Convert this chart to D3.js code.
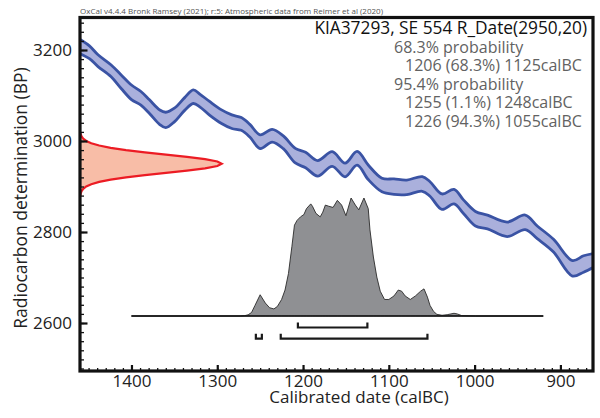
<!DOCTYPE html>
<html><head><meta charset="utf-8">
<script src="https://cdn.jsdelivr.net/npm/d3@7"></script>
<style>body{margin:0;background:#fff}svg{display:block}text{font-family:"Open Sans","Noto Sans",sans-serif}</style>
</head><body><svg id="c" width="600" height="418"></svg>
<script>
// ---- Calibration curve (IntCal20 band) ----
const curveYears = [1462,1449,1439,1424,1412,1400,1389,1379,1367,1360,1350,1338,1328,1320,1309,1295,1283,1272,
  1262,1250,1236,1223,1209,1197,1183,1166,1151,1137,1124,1108,1094,1079,1061,1052,
  1038,1024,1013,999,985,962,941,927,908,886,873,861];
const curveBP = [3209.5,3194.9,3176.5,3154.5,3130.3,3107,3093.8,3075.4,3052.1,3046.2,3057.1,3081.3,3097.4,3088.6,3071.9,3053.4,3042.4,3037.4,
  3022.6,2998.5,3011.6,2997.1,2967.7,2958.2,2940,2960.4,2936.3,2962,2931.2,2903.3,2899.6,2898.2,2905.5,2894.5,
  2866.6,2877.6,2855.6,2829.2,2822,2805.9,2821.3,2799.3,2769.9,2720.2,2729.7,2737.8];
const curveSigma = [16,14,13,13,15,16,15,15,16,17,15,14,15,14,15,15,15,14,
  14,15,14,14,16,17,17,16,15,15,16,15,17,16,16,16,
  17,16,15,16,15,16,16,14,14,17,18,15];

// ---- Radiocarbon measurement R_Date(2950,20), relative density ----
const rBP = [2880,2885,2890,2895,2900,2905,2910,2915,2920,2925,2930,2935,2940,2945,2950,
  2955,2960,2965,2970,2975,2980,2985,2990,2995,3000,3005,3010,3015,3020];
const rDens = [0.0022,0.0051,0.0111,0.0228,0.0439,0.0796,0.1353,0.2163,0.3247,0.4578,0.6065,0.7548,0.8825,0.9692,1,
  0.9692,0.8825,0.7548,0.6065,0.4578,0.3247,0.2163,0.1353,0.0796,0.0439,0.0228,0.0111,0.0051,0.0022];

// ---- Calibrated probability distribution (relative) ----
const postYears = [1400,1273,1268,1264,1260,1256,1250,1244,1239,1234,1230,1225,1221,1217,1213,1210,1207,1203,1199,1196,
  1191,1189,1185,1180,1177,1174,1170,1165,1160,1155,1150,1144,1139,1135,1129,1124,1122,1118,1114,1110,
  1105,1100,1094,1089,1085,1081,1075,1069,1063,1059,1055,1052,1048,1044,1038,1032,1024,1020,1015,999,920];
const postProb = [0,0,0.003,0.01,0.03,0.09,0.18,0.11,0.07,0.06,0.08,0.14,0.22,0.36,0.59,0.77,0.81,0.84,0.86,0.91,
  0.95,0.93,0.87,0.84,0.88,0.94,0.93,0.92,0.98,0.94,0.85,1.0,0.94,0.90,1.0,0.91,0.73,0.50,0.33,0.21,
  0.14,0.14,0.17,0.22,0.21,0.17,0.14,0.17,0.21,0.23,0.16,0.09,0.04,0.014,0.006,0.011,0.023,0.017,0.003,0,0];

// ---- Ranges ----
const range68 = [[1206,1125]];
const range95 = [[1255,1248],[1226,1055]];

// ---- Ticks and text ----
const xTickValues = [1400,1300,1200,1100,1000,900];
const yTickValues = [2600,2800,3000,3200];
const headerText = "OxCal v4.4.4 Bronk Ramsey (2021); r:5: Atmospheric data from Reimer et al (2020)";
const titleText = "KIA37293, SE 554 R_Date(2950,20)";
const summaryLines = [
  ["68.3% probability", 0],
  ["1206 (68.3%) 1125calBC", 1],
  ["95.4% probability", 0],
  ["1255 (1.1%) 1248calBC", 1],
  ["1226 (94.3%) 1055calBC", 1]
];
const xLabel = "Calibrated date (calBC)";
const yLabel = "Radiocarbon determination (BP)";

// ---- Layout ----
const L = 80, R = 593, T = 17.5, B = 371;
const svg = d3.select("#c");
const x = d3.scaleLinear().domain([1460, 862]).range([L, R]);
const y = d3.scaleLinear().domain([2494.5, 3271.4]).range([B, T]);
const rx = d3.scaleLinear().domain([0, 1]).range([L, 221.7]);
const py = d3.scaleLinear().domain([0, 1]).range([316, 198]);

svg.append("clipPath").attr("id","clip").append("rect")
  .attr("x", L).attr("y", T).attr("width", R - L).attr("height", B - T);
const g = svg.append("g").attr("clip-path","url(#clip)");

// calibration band
const cal = curveYears.map((yr,i)=>({yr, bp:curveBP[i], s:curveSigma[i]}));
const cr = d3.curveCatmullRom.alpha(0.5);
g.append("path").datum(cal)
  .attr("d", d3.area().x(d=>x(d.yr)).y0(d=>y(d.bp - d.s)).y1(d=>y(d.bp + d.s)).curve(cr))
  .attr("fill", "#aab0dc");
[1,-1].forEach(sg=>{
  g.append("path").datum(cal)
    .attr("d", d3.line().x(d=>x(d.yr)).y(d=>y(d.bp + sg*d.s)).curve(cr))
    .attr("fill","none").attr("stroke","#3a53a4").attr("stroke-width",2.8);
});

// radiocarbon date distribution on y axis
const rd = rBP.map((b,i)=>({b, d:rDens[i]}));
g.append("path").datum(rd)
  .attr("d", d3.area().y(d=>y(d.b)).x0(rx(0)).x1(d=>rx(d.d)))
  .attr("fill","#f8bda7");
g.append("path").datum(rd)
  .attr("d", d3.line().y(d=>y(d.b)).x(d=>rx(d.d)))
  .attr("fill","none").attr("stroke","#ec1c24").attr("stroke-width",2.2);

// calibrated distribution
const pd = postYears.map((yr,i)=>({yr, p:postProb[i]}));
g.append("path").datum(pd)
  .attr("d", d3.area().x(d=>x(d.yr)).y0(py(0)).y1(d=>py(d.p)))
  .attr("fill","#8f9093").attr("stroke","#2a2a2a").attr("stroke-width",0.9);
g.append("line")
  .attr("x1", x(postYears[0])).attr("x2", x(postYears[postYears.length-1]))
  .attr("y1", py(0)).attr("y2", py(0))
  .attr("stroke","#111").attr("stroke-width",1.4);

// range brackets
function brackets(ranges, yy){
  ranges.forEach(([a,b])=>{
    svg.append("path")
      .attr("d", `M${x(a)},${yy-5}V${yy}H${x(b)}V${yy-5}`)
      .attr("fill","none").attr("stroke","#1a1a1a").attr("stroke-width",2.2);
  });
}
brackets(range68, 327.5);
brackets(range95, 338.7);

// axes
const yMinor = d3.range(2500, 3271, 20);
const xMinor = d3.range(1460, 861, -10);
const yAx = svg.append("g").attr("transform",`translate(${L},0)`);
yAx.call(d3.axisLeft(y).tickValues(yMinor).tickSize(-4).tickFormat(""));
const yAxM = svg.append("g").attr("transform",`translate(${L},0)`);
yAxM.call(d3.axisLeft(y).tickValues(yTickValues).tickSize(-7.5).tickPadding(8).tickFormat(d3.format("d")));
const xAx = svg.append("g").attr("transform",`translate(0,${B})`);
xAx.call(d3.axisBottom(x).tickValues(xMinor).tickSize(-3).tickFormat(""));
const xAxM = svg.append("g").attr("transform",`translate(0,${B})`);
xAxM.call(d3.axisBottom(x).tickValues(xTickValues).tickSize(-6).tickPadding(4).tickFormat(d3.format("d")));
svg.selectAll(".domain").remove();
[yAx,xAx].forEach(a=>a.selectAll(".tick line").attr("stroke","#111").attr("stroke-width",1.3));
[yAxM,xAxM].forEach(a=>{
  a.selectAll(".tick line").attr("stroke","#111").attr("stroke-width",2.2);
  a.selectAll(".tick text").attr("font-family",'"Open Sans","Noto Sans",sans-serif')
    .attr("font-size",17).attr("fill","#222");
});

// frame
svg.append("rect").attr("x",L).attr("y",T).attr("width",R-L).attr("height",B-T)
  .attr("fill","none").attr("stroke","#111").attr("stroke-width",3.2);

// texts
svg.append("text").attr("x",80).attr("y",13.5).attr("font-size",8).attr("fill","#555")
  .text(headerText);
svg.append("text").attr("x",587).attr("y",34).attr("text-anchor","end")
  .attr("font-size",17.3).attr("fill","#111").text(titleText);
summaryLines.forEach(([t,ind],i)=>{
  svg.append("text").attr("x", ind ? 405 : 394).attr("y", 52.5 + i*18.5)
    .attr("font-size",16).attr("fill","#626262").text(t);
});
svg.append("text").attr("x",359).attr("y",402.5).attr("text-anchor","middle")
  .attr("font-size",17).attr("fill","#222").text(xLabel);
svg.append("text").attr("transform","translate(26.5,198) rotate(-90)").attr("text-anchor","middle")
  .attr("font-size",17.5).attr("fill","#222").text(yLabel);
</script></body></html>
